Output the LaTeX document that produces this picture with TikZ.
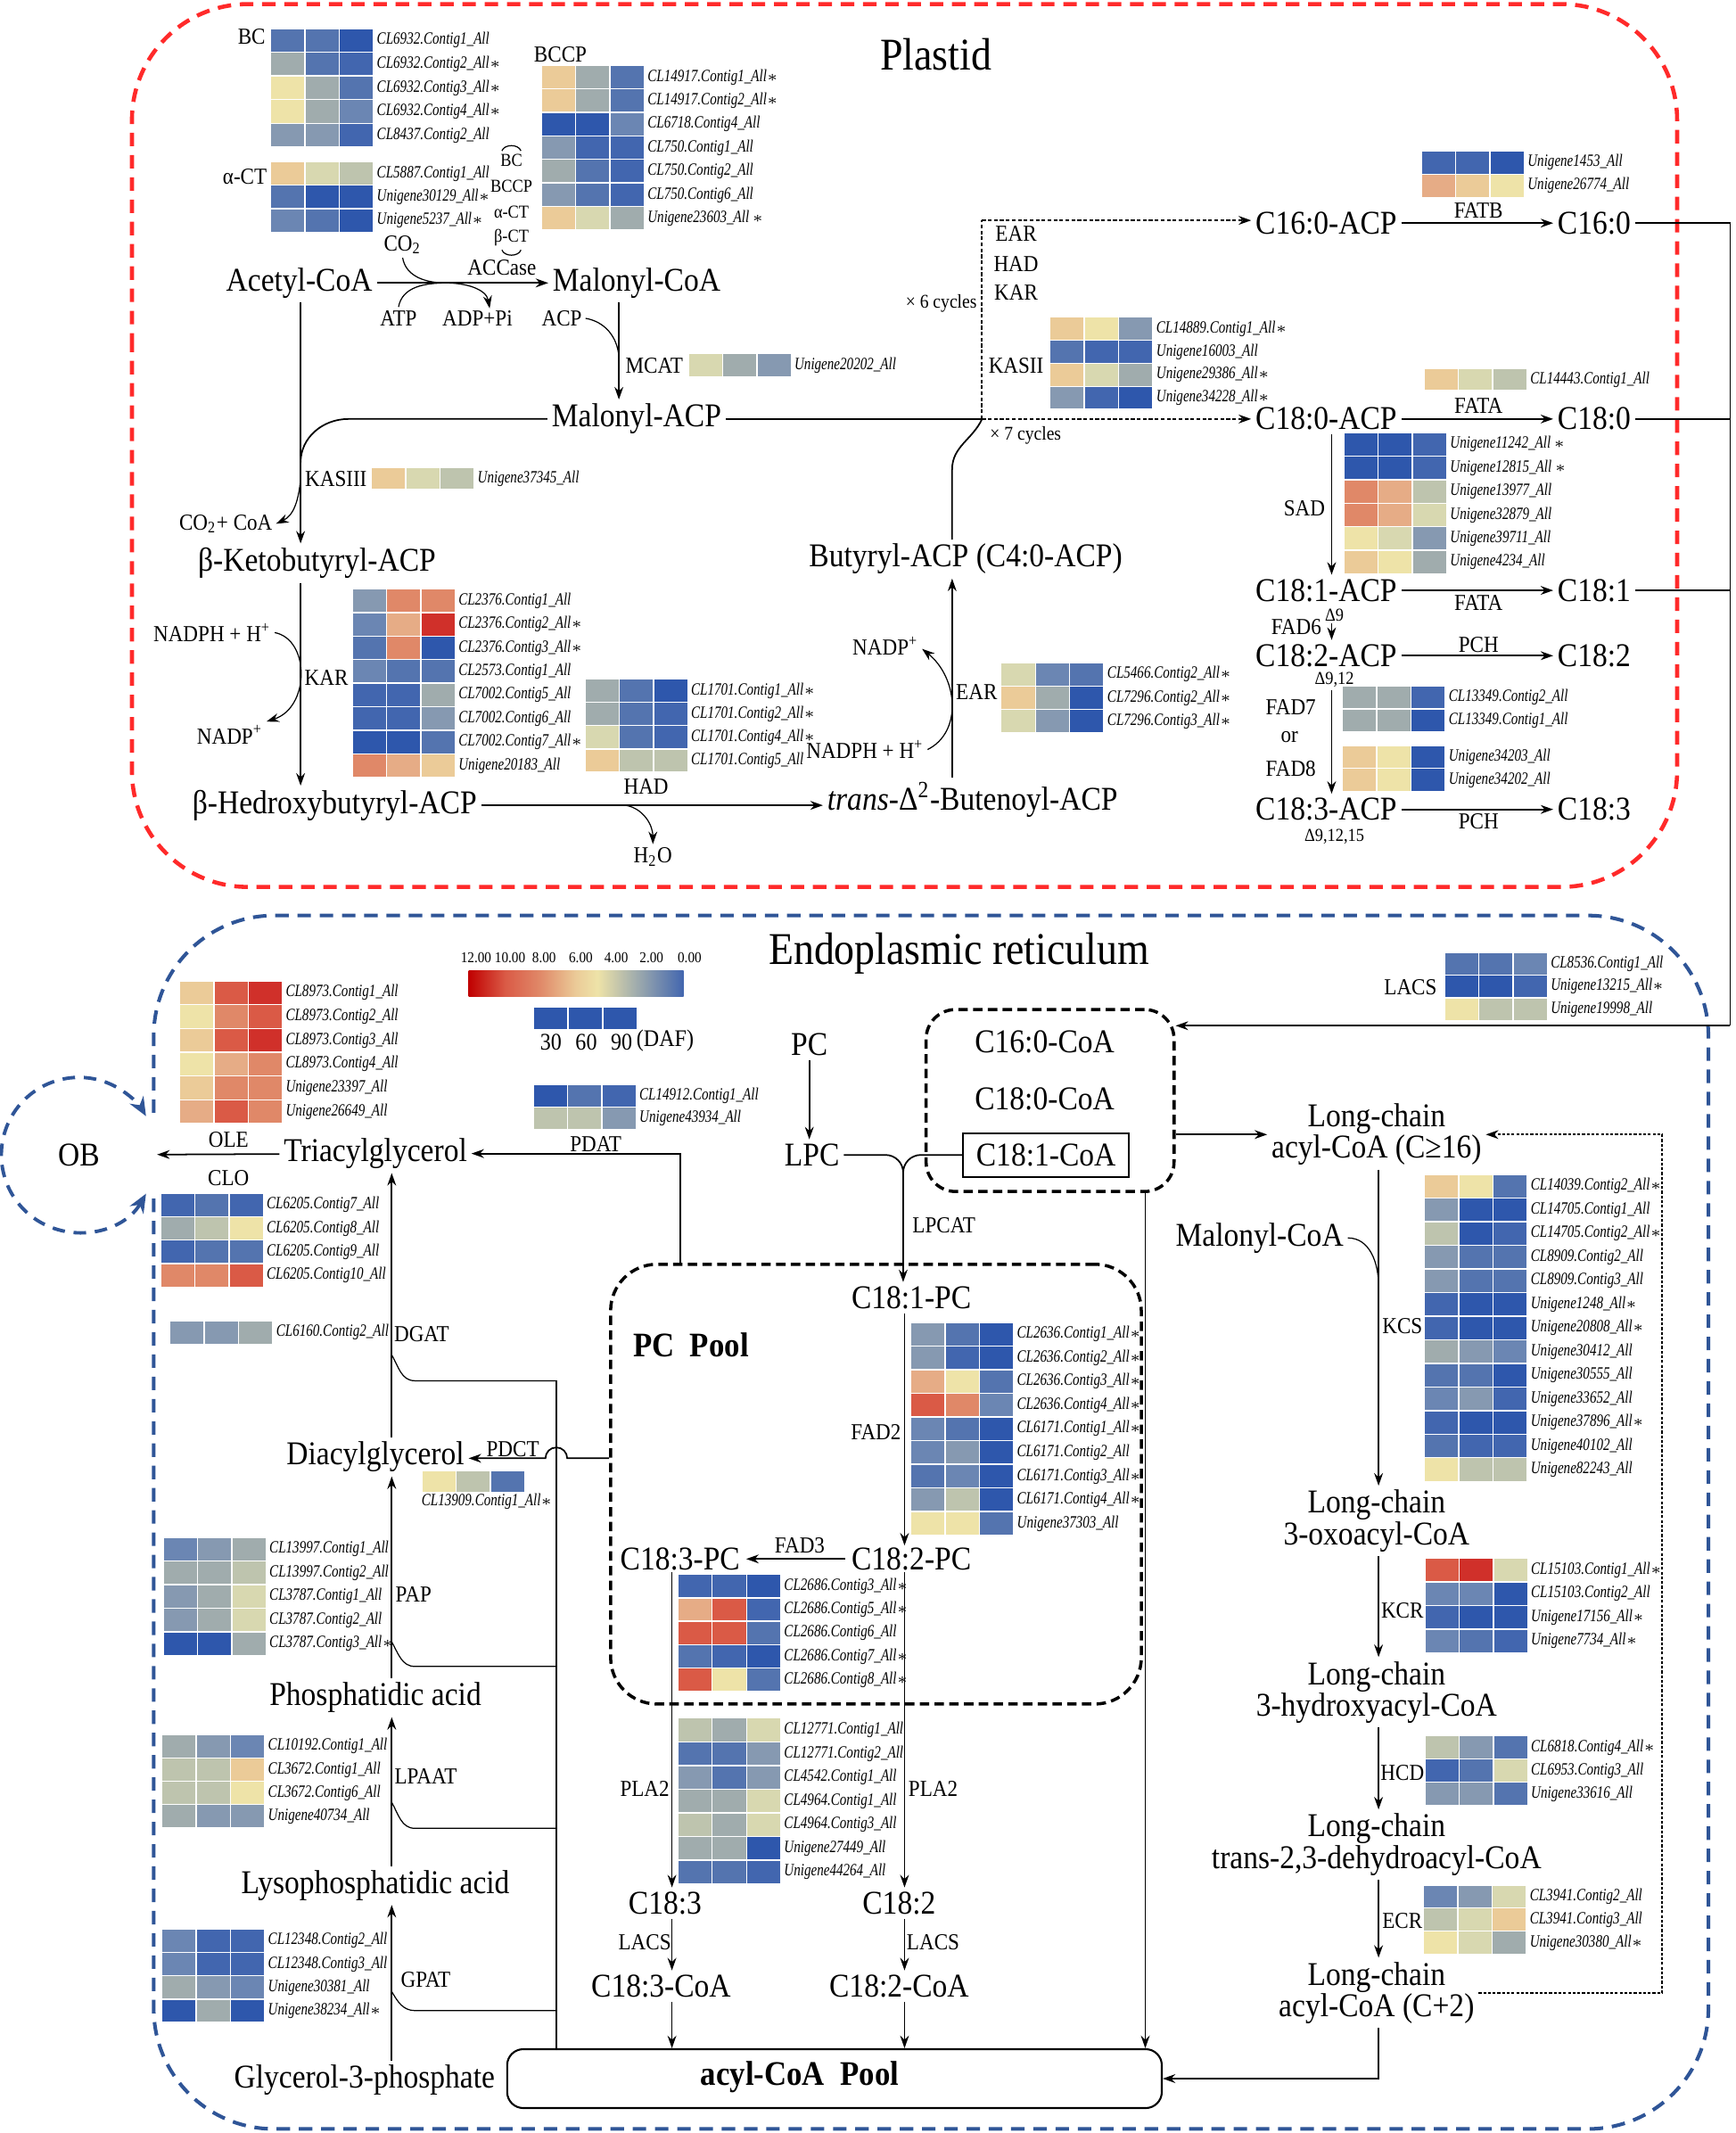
\documentclass[tikz,border=0pt]{standalone}
\usepackage{fontspec}
\setmainfont[FakeStretch=0.9]{Liberation Serif}
\newfontfamily\genefont[FakeStretch=0.78]{Liberation Serif}
\usepackage{tikz}
\usetikzlibrary{arrows.meta,positioning,calc,shapes}
\usepackage{xcolor}

% heat map colours, from 12.00 (red) to 0.00 (blue)
\definecolor{R1}{HTML}{D0302A}
\definecolor{R2}{HTML}{DA5A46}
\definecolor{R3}{HTML}{E08868}
\definecolor{R4}{HTML}{E6AC86}
\definecolor{Y1}{HTML}{EBCB98}
\definecolor{Y2}{HTML}{EEE3A8}
\definecolor{G1}{HTML}{D8D8B0}
\definecolor{G2}{HTML}{BEC4AE}
\definecolor{G3}{HTML}{A0ACAD}
\definecolor{B1}{HTML}{8699B1}
\definecolor{B2}{HTML}{6B86B3}
\definecolor{B3}{HTML}{5474AF}
\definecolor{B4}{HTML}{4266AF}
\definecolor{B5}{HTML}{2E57AC}
\definecolor{barred}{HTML}{C00000}
\definecolor{plastidred}{HTML}{FF2A2A}
\definecolor{erblue}{HTML}{2F5597}

\pgfdeclarehorizontalshading{heatbar}{100bp}{color(0bp)=(barred); color(25bp)=(barred); color(33.5bp)=(R2); color(41.5bp)=(R3); color(50bp)=(Y1); color(55bp)=(Y2); color(64bp)=(G3); color(75bp)=(B4); color(100bp)=(B4)}

\newcommand{\sig}{$\ast$}
% heat map: name, left, top, row height, rows colour/colour/colour/gene
\newcommand{\heat}[5]{%
  \foreach \hA/\hB/\hC/\hL [count=\k from 0] in {#5} {
    \draw[cell, fill=\hA] (#2, #3+\k*#4) rectangle ++(25.2, #4);
    \draw[cell, fill=\hB] (#2+25.2, #3+\k*#4) rectangle ++(25.2, #4);
    \draw[cell, fill=\hC] (#2+50.4, #3+\k*#4) rectangle ++(25.2, #4);
    \node[gene] (#1-\k) at (#2+76.5, #3+\k*#4+0.5*#4) {\hL};
  }%
}

\tikzset{
  met/.style={font=\fontsize{10.6}{10}\selectfont, inner sep=1.2pt, align=center},
  enz/.style={font=\fontsize{7.3}{8}\selectfont, inner sep=1pt},
  mini/.style={font=\fontsize{5.8}{6.5}\selectfont, inner sep=0.5pt},
  title/.style={font=\fontsize{14.5}{16}\selectfont},
  pooltxt/.style={font=\bfseries\fontsize{11}{12}\selectfont},
  gene/.style={font=\genefont\itshape\fontsize{5.5}{6}\selectfont, anchor=west, inner sep=0.5pt},
  cell/.style={draw=white, line width=0.4pt},
  arr/.style={->, line width=0.5pt},
  mainarr/.style={->, line width=0.65pt},
  thinarr/.style={->, line width=0.35pt},
  thinline/.style={line width=0.35pt},
  link/.style={line width=0.5pt},
  cycline/.style={line width=0.6pt, dash pattern=on 1.2pt off 0.7pt},
  dotline/.style={line width=0.55pt, dash pattern=on 0.9pt off 0.6pt},
  plastidline/.style={draw=plastidred, line width=1.3pt, dash pattern=on 4.3pt off 2.8pt, rounded corners=13mm},
  erline/.style={draw=erblue, line width=1.15pt, dash pattern=on 4.3pt off 2.8pt, rounded corners=13.5mm},
  obline/.style={draw=erblue, line width=1.1pt, dash pattern=on 4pt off 2.8pt},
  poolframe/.style={draw, line width=1pt, dash pattern=on 3pt off 1.7pt},
}

\begin{document}
\begin{tikzpicture}[x=0.15251mm, y=-0.15251mm, >={Stealth[length=4pt,width=2.8pt]}]
  \useasboundingbox (0,0) rectangle (1276,1568);

  % compartments
  \draw[plastidline] (97,340) -- (97,3) -- (1233,3) -- (1233,652) -- (97,652) -- cycle;
  \draw[erline] (113,818) -- (113,673) -- (1256,673) -- (1256,1565) -- (113,1565) -- (113,881);
  \node[title] (plastid) at (688,40) {Plastid};
  \node[title] (er) at (705,701) {Endoplasmic reticulum};

  %%%%%%%% plastid %%%%%%%%
  \node[enz] (bclab) at (185,27) {BC};
  \heat{bc}{199}{21}{17.4}{B3/B3/B5/CL6932.Contig1\_All, G3/B3/B4/CL6932.Contig2\_All\sig, Y2/G3/B3/CL6932.Contig3\_All\sig, Y2/G3/B2/CL6932.Contig4\_All\sig, B1/B1/B4/CL8437.Contig2\_All}
  \node[enz] (actlab) at (180,130) {α-CT};
  \heat{act}{199}{119}{17.2}{Y1/G1/G2/CL5887.Contig1\_All, B3/B5/B5/Unigene30129\_All\sig, B2/B3/B5/Unigene5237\_All\sig}
  \node[enz] (bccplab) at (412,40) {BCCP};
  \heat{bccp}{398}{48}{17.3}{Y1/G3/B3/CL14917.Contig1\_All\sig, Y1/G3/B3/CL14917.Contig2\_All\sig, B5/B5/B2/CL6718.Contig4\_All, B1/B4/B4/CL750.Contig1\_All, G3/B3/B4/CL750.Contig2\_All, B1/B3/B4/CL750.Contig6\_All, Y1/G1/G3/Unigene23603\_All\,\sig}

  % ACCase subunits
  \node[mini] (sbc) at (376,118) {BC};
  \node[mini] (sbccp) at (376,137) {BCCP};
  \node[mini] (sact) at (376,156) {α-CT};
  \node[mini] (sbct) at (376,175) {β-CT};
  \draw[thinline] ($(sbc.north)+(-7,-1)$) to[bend left=70] ($(sbc.north)+(7,-1)$);
  \draw[thinline] ($(sbct.south)+(-7,1)$) to[bend right=70] ($(sbct.south)+(7,1)$);

  \node[met] (acetyl) at (220,208) {Acetyl-CoA};
  \node[met] (malcoa) at (468,208) {Malonyl-CoA};
  \node[enz] (co2) at (296,180) {CO\textsubscript{2}};
  \node[enz] (atp) at (293,234) {ATP};
  \node[enz] (adp) at (351,234) {ADP+Pi};
  \node[enz] (acp) at (413,234) {ACP};
  \node[enz] (accase) at (369,197) {ACCase};
  \coordinate (accj) at (328,208);
  \draw[mainarr] (acetyl) -- (malcoa);
  \draw[thinline] (co2.south) to[out=-80,in=180] (accj);
  \draw[thinline] (atp.north) to[out=80,in=180] (accj);
  \draw[thinarr] (accj) to[out=0,in=100] ($(adp.north)+(9,1)$);

  \coordinate (kcol) at (221,0);
  \coordinate (mcol) at (455,0);
  \coordinate (acpj) at (455,262);
  \node[met] (malacp) at (468,308) {Malonyl-ACP};
  \draw[arr] (mcol |- malcoa.south) -- (mcol |- malacp.north);
  \draw[thinline] (acp.east) to[out=-10,in=95] (acpj);
  \node[enz] (mcat) at (481,269) {MCAT};
  \heat{mcat}{506}{260}{17}{G1/G3/B1/Unigene20202\_All}

  \node[met] (ketobut) at (233,414) {β-Ketobutyryl-ACP};
  \node[met] (hydbut) at (246,592) {β-Hedroxybutyryl-ACP};
  \draw[arr] (kcol |- acetyl.south) -- (kcol |- ketobut.north);
  \coordinate (kasbend) at (256,308);
  \coordinate (kasj) at (221,340);
  \coordinate (coaj) at (221,352);
  \draw[link] (malacp.west) -- (kasbend) to[out=180,in=90] (kasj);
  \node[enz] (co2coa) at (166,385) {CO\textsubscript{2}+ CoA};
  \draw[thinarr] (coaj) to[out=-95,in=25] (co2coa.east);
  \node[enz] (kasiii) at (247,352) {KASIII};
  \heat{kasiii}{273}{344}{16}{Y1/G1/G2/Unigene37345\_All}

  % KAR
  \draw[arr] (kcol |- ketobut.south) -- (kcol |- hydbut.north);
  \node[enz] (nadph1) at (156,465) {NADPH + H\textsuperscript{+}};
  \node[enz] (nadp1) at (169,540) {NADP\textsuperscript{+}};
  \draw[thinarr] (nadph1.east) .. controls (228,470) and (228,520) .. (nadp1.north east);
  \node[enz] (kar) at (240,498) {KAR};
  \heat{kar}{259}{433}{17.3}{B1/R3/R3/CL2376.Contig1\_All, B2/R4/R1/CL2376.Contig2\_All\sig, B3/R3/B5/CL2376.Contig3\_All\sig, B2/B3/B3/CL2573.Contig1\_All, B4/B4/G3/CL7002.Contig5\_All, B4/B4/B1/CL7002.Contig6\_All, B5/B5/B3/CL7002.Contig7\_All\sig, R3/R4/Y1/Unigene20183\_All}

  % HAD
  \heat{had}{430}{499}{17.2}{G3/B3/B5/CL1701.Contig1\_All\sig, G3/B3/B4/CL1701.Contig2\_All\sig, G1/B3/B4/CL1701.Contig4\_All\sig, Y1/G2/G2/CL1701.Contig5\_All}
  \node[enz] (had) at (475,578) {HAD};
  \node[met] (buten) at (715,588) {\textit{trans}-Δ\textsuperscript{2}-Butenoyl-ACP};
  \draw[mainarr] (hydbut.east) -- (hydbut.east -| buten.west);
  \coordinate (h2oj) at (460,592);
  \node[enz] (h2o) at (480,630) {H\textsubscript{2}O};
  \draw[thinarr] (h2oj) to[out=-10,in=90] (h2o.north);

  % EAR
  \coordinate (ecol) at (700,0);
  \node[met] (butyryl) at (710,411) {Butyryl-ACP (C4:0-ACP)};
  \draw[arr] (ecol |- buten.north) -- (ecol |- butyryl.south);
  \node[enz] (ear) at (718,509) {EAR};
  \node[enz] (nadph2) at (636,551) {NADPH + H\textsuperscript{+}};
  \node[enz] (nadp2) at (651,475) {NADP\textsuperscript{+}};
  \draw[thinarr] (nadph2.east) .. controls (708,538) and (704,498) .. ($(nadp2.east)+(0,2)$);
  \heat{ear}{736}{487}{17.3}{G1/B2/B3/CL5466.Contig2\_All\sig, Y1/G3/B5/CL7296.Contig2\_All\sig, G1/B1/B5/CL7296.Contig3\_All\sig}

  % elongation cycles
  \coordinate (cycj) at (722,308);
  \coordinate (cyctop) at (722,162);
  \coordinate (butbend) at (700,345);
  \draw[link] (malacp.east) -- (cycj);
  \draw[link] (ecol |- butyryl.north) -- (butbend) to[out=90,in=-115] (cycj);
  \node[met] (c160acp) at (975,164) {C16:0-ACP};
  \node[met] (c180acp) at (975,308) {C18:0-ACP};
  \draw[cycline] (cycj) -- (cyctop);
  \draw[cycline, ->] (cyctop) -- (cyctop -| c160acp.west);
  \draw[cycline, ->] (cycj) -- (cycj -| c180acp.west);
  \node[enz] (cear) at (747,172) {EAR};
  \node[enz] (chad) at (747,194) {HAD};
  \node[enz] (ckar) at (747,215) {KAR};
  \node[mini, font=\fontsize{6.2}{7}\selectfont] (six) at (692,223) {× 6 cycles};
  \node[enz] (kasii) at (747,269) {KASII};
  \node[mini, font=\fontsize{6.2}{7}\selectfont] (seven) at (754,320) {× 7 cycles};
  \heat{kasii}{772}{233}{17}{Y1/Y2/B1/CL14889.Contig1\_All\sig, B3/B4/B4/Unigene16003\_All, Y1/G1/G3/Unigene29386\_All\sig, B1/B4/B5/Unigene34228\_All\sig}

  % thioesterases and desaturases
  \heat{fatb}{1045}{111}{17}{B4/B4/B5/Unigene1453\_All, R4/Y1/Y2/Unigene26774\_All}
  \node[enz] (fatb) at (1087,155) {FATB};
  \node[met] (c160) at (1172,164) {C16:0};
  \draw[arr] (c160acp) -- (c160);
  \heat{fata}{1047}{271}{16}{Y1/G1/G2/CL14443.Contig1\_All}
  \node[enz] (fata1) at (1087,298) {FATA};
  \node[met] (c180) at (1172,308) {C18:0};
  \draw[arr] (c180acp) -- (c180);

  \coordinate (dcol) at (979,0);
  \node[met] (c181acp) at (975,434) {C18:1-ACP};
  \node[met] (c181) at (1172,434) {C18:1};
  \node[met] (c182acp) at (975,482) {C18:2-ACP};
  \node[met] (c182) at (1172,482) {C18:2};
  \node[met] (c183acp) at (975,595) {C18:3-ACP};
  \node[met] (c183) at (1172,595) {C18:3};
  \heat{sad}{988}{318}{17.3}{B5/B5/B4/Unigene11242\_All\,\sig, B5/B5/B4/Unigene12815\_All\,\sig, R3/R4/G2/Unigene13977\_All, R3/R4/G1/Unigene32879\_All, Y2/G1/B1/Unigene39711\_All, Y1/Y2/G3/Unigene4234\_All}
  \node[enz] (sad) at (959,374) {SAD};
  \draw[arr] (dcol |- c180acp.south) -- (dcol |- c181acp.north);
  \node[mini] (d9) at (981,452) {Δ9};
  \draw[arr] (c181acp) -- (c181);
  \node[enz] (fata2) at (1087,443) {FATA};
  \node[enz] (fad6) at (953,461) {FAD6};
  \draw[arr] (dcol |- d9.south) -- (dcol |- c182acp.north);
  \node[mini] (d912) at (981,500) {Δ9,12};
  \draw[arr] (c182acp) -- (c182);
  \node[enz] (pch1) at (1087,474) {PCH};
  \heat{fad7}{987}{504}{17}{G3/G3/B4/CL13349.Contig2\_All, G3/G3/B5/CL13349.Contig1\_All}
  \heat{fad8}{987}{548}{16.8}{Y1/Y2/B5/Unigene34203\_All, Y1/Y2/B5/Unigene34202\_All}
  \node[enz] (fad7) at (949,520) {FAD7};
  \node[enz] (or) at (948,542) {or};
  \node[enz] (fad8) at (949,565) {FAD8};
  \draw[arr] (dcol |- d912.south) -- (dcol |- c183acp.north);
  \node[mini] (d91215) at (981,615) {Δ9,12,15};
  \draw[arr] (c183acp) -- (c183);
  \node[enz] (pch2) at (1087,604) {PCH};

  % export to the ER
  \coordinate (outbot) at (1272,754);
  \draw[link] (c160.east) -| (outbot);
  \draw[link] (c180.east) -- (c180.east -| outbot);
  \draw[link] (c181.east) -- (c181.east -| outbot);

  %%%%%%%% endoplasmic reticulum %%%%%%%%
  % legend
  \foreach \v/\px in {12.00/350, 10.00/375, 8.00/400, 6.00/427, 4.00/453, 2.00/479, 0.00/507}
    \node[mini, font=\fontsize{4.8}{5}\selectfont] (sc\px) at (\px,704) {\v};
  \shade[shading=heatbar] (344.5,713.5) rectangle (502.5,732.5);
  \foreach \i in {0,1,2}
    \draw[cell, fill=B5] (392+\i*25.5,740) rectangle ++(25.5,17);
  \node[enz, font=\fontsize{7.6}{8}\selectfont] (daf30) at (405,766) {30};
  \node[enz, font=\fontsize{7.6}{8}\selectfont] (daf60) at (431,766) {60};
  \node[enz, font=\fontsize{7.6}{8}\selectfont] (daf90) at (457,766) {90};
  \node[enz, font=\fontsize{7.6}{8}\selectfont] (daf) at (489,765) {(DAF)};

  % oil body and TAG assembly
  \node[met, circle, minimum size=17.4mm] (ob) at (58,849) {OB};
  \draw[obline, {Stealth[length=6pt,width=5pt]}-{Stealth[length=6pt,width=5pt]}] ($(ob.center)+(30:57)$) arc[start angle=30, end angle=330, radius=57];
  \heat{ole}{132}{721}{17.5}{Y1/R2/R1/CL8973.Contig1\_All, Y2/R3/R2/CL8973.Contig2\_All, Y1/R2/R1/CL8973.Contig3\_All, Y2/R4/R3/CL8973.Contig4\_All, Y1/R3/R3/Unigene23397\_All, R4/R2/R3/Unigene26649\_All}
  \node[enz] (ole) at (168,838) {OLE};
  \node[enz] (clo) at (168,866) {CLO};
  \node[met] (tag) at (276,848) {Triacylglycerol};
  \draw[arr] (tag) -- (ob);
  \heat{clo}{118}{877}{17.3}{B4/B3/B4/CL6205.Contig7\_All, G3/G2/Y2/CL6205.Contig8\_All, B4/B3/B3/CL6205.Contig9\_All, R3/R3/R2/CL6205.Contig10\_All}
  \heat{pdat}{392}{797}{16.8}{B5/B3/B4/CL14912.Contig1\_All, G2/G2/B1/Unigene43934\_All}
  \node[enz] (pdat) at (438,841) {PDAT};
  \heat{dgat}{125}{971}{17}{B1/B1/G3/CL6160.Contig2\_All}
  \node[enz] (dgat) at (310,981) {DGAT};

  \coordinate (gcol) at (288,0);
  \coordinate (acol) at (409,0);
  \node[met] (dag) at (276,1071) {Diacylglycerol};
  \node[met] (pa) at (276,1248) {Phosphatidic acid};
  \node[met] (lpa) at (276,1386) {Lysophosphatidic acid};
  \node[met] (g3p) at (268,1529) {Glycerol-3-phosphate};
  \draw[arr] (gcol |- dag.north) -- (gcol |- tag.south);
  \draw[arr] (gcol |- pa.north) -- (gcol |- dag.south);
  \draw[arr] (gcol |- lpa.north) -- (gcol |- pa.south);
  \draw[arr] (gcol |- g3p.north) -- (gcol |- lpa.south);

  \heat{dag}{310}{1081}{16}{Y2/G2/B3/{}}
  \node[gene, anchor=center] (daglab) at (358,1104) {CL13909.Contig1\_All\sig};
  \heat{pap}{120}{1130}{17.4}{B2/B1/G3/CL13997.Contig1\_All, G3/G3/G2/CL13997.Contig2\_All, B1/G3/G1/CL3787.Contig1\_All, B1/G3/G1/CL3787.Contig2\_All, B5/B5/G3/CL3787.Contig3\_All\sig}
  \node[enz] (pap) at (304,1172) {PAP};
  \heat{lpaat}{119}{1275}{17.2}{G3/B1/B2/CL10192.Contig1\_All, G2/G2/Y1/CL3672.Contig1\_All, G2/G2/Y2/CL3672.Contig6\_All, G3/B1/B1/Unigene40734\_All}
  \node[enz] (lpaat) at (313,1306) {LPAAT};
  \heat{gpat}{119}{1418}{17.2}{B2/B4/B4/CL12348.Contig2\_All, B2/B4/B4/CL12348.Contig3\_All, G3/B1/B2/Unigene30381\_All, B5/G3/B5/Unigene38234\_All\sig}
  \node[enz] (gpat) at (313,1455) {GPAT};

  % acyl-CoA supply of the Kennedy pathway
  \node[draw, line width=0.6pt, rounded corners=1.8mm, minimum width=73.4mm, minimum height=6.6mm] (pool) at (613.5,1528) {};
  \node[pooltxt] (pooltext) at (588,1527) {acyl-CoA~~Pool};
  \coordinate (dgatj) at (288,996);
  \coordinate (papj) at (288,1207);
  \coordinate (lpaatj) at (288,1325);
  \coordinate (gpatj) at (288,1464);
  \foreach \j/\dy in {dgatj/19, papj/18, lpaatj/19, gpatj/14}
    \draw[thinline] (\j) to[out=-60,in=180] ($(\j)+(17,\dy)$) -- ($(\j)+(121,\dy)$);
  \draw[link] (acol |- 0,1015) -- (acol |- pool.north);

  % PC pool
  \node[poolframe, rounded corners=5.2mm, minimum width=59.5mm, minimum height=49.3mm] (pcpool) at (644,1091) {};
  \node[pooltxt] (pcpooltext) at (508,989) {PC~~Pool};
  \coordinate (pdatcol) at (500,0);
  \draw[arr] (pdatcol |- pcpool.north) |- (tag.east);
  \coordinate (pdcty) at (0,1072);
  \draw[arr] (pcpool.west |- pdcty) -- (417,1072) arc[start angle=0, end angle=-180, radius=8] -- (dag.east |- pdcty);
  \node[enz] (pdct) at (377,1065) {PDCT};

  \node[met] (pc) at (595,768) {PC};
  \node[met] (lpc) at (597,849) {LPC};
  \draw[arr] (pc.south) -- (pc.south |- lpc.north);
  \node[poolframe, rounded corners=3.3mm, minimum width=27.8mm, minimum height=20.4mm] (coabox) at (772,809) {};
  \node[met] (c160coa) at (768,766) {C16:0-CoA};
  \node[met] (c180coa) at (768,808) {C18:0-CoA};
  \node[met, draw, line width=0.6pt, minimum width=18.6mm, minimum height=4.9mm] (c181coa) at (769,849) {C18:1-CoA};
  \draw[arr] (outbot) -- (outbot -| coabox.east);

  \coordinate (lpcj) at (664,862);
  \coordinate (pcol) at (665,0);
  \coordinate (qcol) at (494,0);
  \node[met] (c181pc) at (670,954) {C18:1-PC};
  \node[met, inner sep=0.5pt] (c182pc) at (670,1146) {C18:2-PC};
  \node[met, inner sep=0.5pt] (c183pc) at (500,1146) {C18:3-PC};
  \draw[link] (lpc.east) -- (651,849) to[out=0,in=90] (lpcj);
  \draw[link] (c181coa.west) -- (677,849) to[out=180,in=90] (lpcj);
  \draw[arr] (lpcj) -- (lpcj |- c181pc.north);
  \node[enz] (lpcat) at (694,901) {LPCAT};
  \draw[arr] (pcol |- c181pc.south) -- (pcol |- c182pc.north);
  \node[enz] (fad2) at (644,1053) {FAD2};
  \heat{fad2}{669.6}{972}{17.4}{B1/B3/B5/CL2636.Contig1\_All\sig, B1/B4/B5/CL2636.Contig2\_All\sig, R4/Y2/B3/CL2636.Contig3\_All\sig, R2/R3/B2/CL2636.Contig4\_All\sig, B2/B3/B5/CL6171.Contig1\_All\sig, B2/B1/B5/CL6171.Contig2\_All, B3/B2/B5/CL6171.Contig3\_All\sig, B1/G2/B5/CL6171.Contig4\_All\sig, Y2/Y2/B3/Unigene37303\_All}
  \draw[arr] ($(c182pc.west)+(-3,0)$) -- ($(c183pc.east)+(3,0)$);
  \node[enz] (fad3) at (588,1136) {FAD3};
  \heat{fad3}{498.4}{1157.4}{17.2}{B4/B4/B5/CL2686.Contig3\_All\sig, R4/R2/B4/CL2686.Contig5\_All\sig, R2/R2/B3/CL2686.Contig6\_All, B3/B4/B5/CL2686.Contig7\_All\sig, R2/Y2/B3/CL2686.Contig8\_All\sig}

  % PLA2 and LACS
  \node[met] (er183) at (489,1399) {C18:3};
  \node[met] (er182) at (661,1399) {C18:2};
  \node[met] (c183coa) at (486,1460) {C18:3-CoA};
  \node[met] (c182coa) at (661,1460) {C18:2-CoA};
  \draw[arr] (qcol |- c183pc.south) -- (qcol |- er183.north);
  \draw[arr] (pcol |- c182pc.south) -- (pcol |- er182.north);
  \node[enz] (pla1) at (474,1315) {PLA2};
  \node[enz] (pla2) at (686,1315) {PLA2};
  \heat{pla}{498.4}{1263}{17.4}{G2/G3/G1/CL12771.Contig1\_All, B3/B3/B1/CL12771.Contig2\_All, B1/B3/B1/CL4542.Contig1\_All, G3/G3/G1/CL4964.Contig1\_All, G2/G3/G1/CL4964.Contig3\_All, G3/G3/B5/Unigene27449\_All, B3/B3/B4/Unigene44264\_All}
  \draw[arr] (qcol |- er183.south) -- (qcol |- c183coa.north);
  \draw[arr] (pcol |- er182.south) -- (pcol |- c182coa.north);
  \node[enz] (lacs1) at (474,1428) {LACS};
  \node[enz] (lacs2) at (686,1428) {LACS};
  \draw[arr] (qcol |- c183coa.south) -- (qcol |- pool.north);
  \draw[arr] (pcol |- c182coa.south) -- (pcol |- pool.north);
  \coordinate (rcol) at (842,0);
  \draw[arr] (rcol |- coabox.south) -- (rcol |- pool.north);

  % LACS from plastid
  \heat{lacs}{1062}{700}{16.7}{B3/B3/B2/CL8536.Contig1\_All, B5/B5/B4/Unigene13215\_All\sig, Y2/G2/G2/Unigene19998\_All}
  \node[enz] (lacs) at (1037,726) {LACS};

  % fatty acid elongation
  \coordinate (lcol) at (1013.5,0);
  \node[met] (lcacyl) at (1012,834) {Long-chain\\acyl-CoA (C≥16)};
  \node[met] (oxo) at (1012,1118) {Long-chain\\3-oxoacyl-CoA};
  \node[met] (hydroxy) at (1012,1244) {Long-chain\\3-hydroxyacyl-CoA};
  \node[met] (dehydro) at (1012,1356) {Long-chain\\trans-2,3-dehydroacyl-CoA};
  \node[met] (lcc2) at (1012,1465) {Long-chain\\acyl-CoA (C+2)};
  \draw[arr] (coabox.east |- lcacyl.west) -- (lcacyl.west);
  \node[met] (malcoa2) at (926,910) {Malonyl-CoA};
  \coordinate (kcsj) at (1013.5,945);
  \draw[thinline] (malcoa2.east) to[out=0,in=90] (kcsj);
  \draw[arr] (lcol |- lcacyl.south) -- (lcol |- oxo.north);
  \node[enz] (kcs) at (1031,975) {KCS};
  \heat{kcs}{1047.3}{863.3}{17.36}{Y1/Y2/B3/CL14039.Contig2\_All\sig, B1/B5/B5/CL14705.Contig1\_All, G2/B5/B4/CL14705.Contig2\_All\sig, B1/B3/B3/CL8909.Contig2\_All, B1/B3/B3/CL8909.Contig3\_All, B4/B5/B5/Unigene1248\_All\sig, B4/B5/B5/Unigene20808\_All\sig, G3/B1/B2/Unigene30412\_All, B3/B3/B5/Unigene30555\_All, B2/B1/B4/Unigene33652\_All, B4/B5/B5/Unigene37896\_All\sig, B3/B4/B4/Unigene40102\_All, Y2/G2/G2/Unigene82243\_All}
  \draw[arr] (lcol |- oxo.south) -- (lcol |- hydroxy.north);
  \node[enz] (kcr) at (1031,1184) {KCR};
  \heat{kcr}{1047.5}{1145.5}{17.35}{R2/R1/G1/CL15103.Contig1\_All\sig, B2/B2/B5/CL15103.Contig2\_All, B4/B5/B5/Unigene17156\_All\sig, B2/B3/B4/Unigene7734\_All\sig}
  \draw[arr] (lcol |- hydroxy.south) -- (lcol |- dehydro.north);
  \node[enz] (hcd) at (1031,1303) {HCD};
  \heat{hcd}{1047.5}{1276}{17}{G2/B1/B3/CL6818.Contig4\_All\sig, B4/B3/G1/CL6953.Contig3\_All, B1/B1/B3/Unigene33616\_All}
  \draw[arr] (lcol |- dehydro.south) -- (lcol |- lcc2.north);
  \node[enz] (ecr) at (1031,1412) {ECR};
  \heat{ecr}{1046.6}{1385.7}{16.9}{B2/B1/G1/CL3941.Contig2\_All, G2/G1/Y1/CL3941.Contig3\_All, Y2/G1/G3/Unigene30380\_All\sig}
  \coordinate (fbx) at (1222,0);
  \draw[dotline, ->] (lcc2.east) -| (fbx |- lcacyl.east) -- (lcacyl.east);
  \draw[arr] (lcol |- lcc2.south) |- (pool.east);
\end{tikzpicture}
\end{document}
